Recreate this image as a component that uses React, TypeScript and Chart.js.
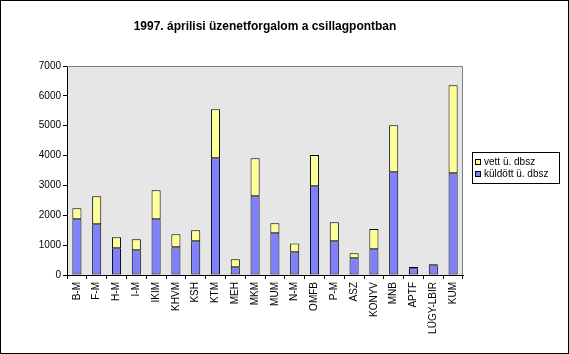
import { useEffect, useRef } from "react";
import { Chart, registerables } from "chart.js";
Chart.register(...registerables);

const titleText = "1997. áprilisi üzenetforgalom a csillagpontban";
const categories = ["B-M", "F-M", "H-M", "I-M", "IKIM", "KHVM", "KSH", "KTM", "MEH", "MKM", "MUM", "N-M", "OMFB", "P-M", "ASZ", "KONYV", "MNB", "APTF", "LÜGY-LBIR", "KUM"];
const sentLabel = "küldött ü. dbsz";
const receivedLabel = "vett ü. dbsz";
const sentValues = [1865, 1697, 893, 826, 1865, 927, 1128, 3908, 257, 2635, 1396, 759, 2970, 1128, 558, 860, 3439, 223, 324, 3405];
const receivedValues = [370, 940, 370, 370, 970, 435, 370, 1640, 270, 1275, 335, 300, 1050, 635, 170, 680, 1575, 45, 35, 2950];
const yMin = 0;
const yMax = 7000;
const yStep = 1000;

const FONT = "'Liberation Sans', Arial, sans-serif";

const decorPlugin = {
  id: "decor",
  beforeDraw(chart: any) {
    const { ctx, chartArea: a, width, height } = chart;
    ctx.save();
    ctx.fillStyle = "#ffffff";
    ctx.fillRect(0, 0, width, height);
    ctx.fillStyle = "#e6e6e6";
    ctx.fillRect(a.left, a.top, a.right - a.left, a.bottom - a.top);
    ctx.restore();
  },
  afterDraw(chart: any) {
    const { ctx, chartArea: a, width, height } = chart;
    ctx.save();
    ctx.strokeStyle = "#808080";
    ctx.lineWidth = 1;
    ctx.beginPath();
    ctx.moveTo(a.left, a.top + 0.5);
    ctx.lineTo(a.right - 0.5, a.top + 0.5);
    ctx.lineTo(a.right - 0.5, a.bottom);
    ctx.stroke();
    ctx.strokeStyle = "#000000";
    ctx.strokeRect(0.5, 0.5, width - 1, height - 1);
    ctx.fillStyle = "#000000";
    ctx.font = `bold 12px ${FONT}`;
    ctx.textAlign = "center";
    ctx.textBaseline = "middle";
    ctx.fillText(titleText, (a.left + a.right) / 2, 27);
    const lx = 472, ly = 152, lw = 87, lh = 31;
    ctx.fillStyle = "#ffffff";
    ctx.fillRect(lx, ly, lw, lh);
    ctx.strokeStyle = "#000000";
    ctx.strokeRect(lx + 0.5, ly + 0.5, lw, lh);
    const ds = chart.data.datasets.slice().reverse();
    ctx.font = `10px ${FONT}`;
    ctx.textAlign = "left";
    ds.forEach((d: any, i: number) => {
      const cy = ly + 10 + i * 12;
      ctx.fillStyle = d.backgroundColor;
      ctx.fillRect(lx + 3, cy - 3, 6, 6);
      ctx.strokeStyle = "#000000";
      ctx.strokeRect(lx + 3.5, cy - 2.5, 5, 5);
      ctx.fillStyle = "#000000";
      ctx.fillText(d.label, lx + 12, cy + 0.5);
    });
    ctx.restore();
  },
};

export default function App() {
  const ref = useRef<HTMLCanvasElement | null>(null);
  useEffect(() => {
    document.body.style.margin = "0";
    if (!ref.current) return;
    const chart = new Chart(ref.current, {
      type: "bar",
      data: {
        labels: categories,
        datasets: [
          {
            label: sentLabel,
            data: sentValues,
            backgroundColor: "#8080ff",
            borderColor: "#000000",
            borderWidth: 1,
            borderSkipped: false,
            barPercentage: 0.46,
            categoryPercentage: 1,
          },
          {
            label: receivedLabel,
            data: receivedValues,
            backgroundColor: "#ffff99",
            borderColor: "#000000",
            borderWidth: 1,
            borderSkipped: false,
            barPercentage: 0.46,
            categoryPercentage: 1,
          },
        ],
      },
      options: {
        responsive: false,
        animation: false,
        layout: { padding: { left: 0, right: 106, top: 66, bottom: 0 } },
        plugins: {
          legend: { display: false },
          title: { display: false },
          tooltip: { enabled: false },
        },
        scales: {
          x: {
            stacked: true,
            offset: true,
            grid: {
              offset: true,
              drawOnChartArea: false,
              drawTicks: true,
              tickLength: 4,
              color: "#000000",
            },
            border: { color: "#000000", width: 1 },
            ticks: {
              autoSkip: false,
              maxRotation: 90,
              minRotation: 90,
              color: "#000000",
              font: { family: FONT, size: 10 },
              padding: 3,
            },
            afterFit(scale: any) {
              scale.height = 79;
            },
          },
          y: {
            stacked: true,
            min: yMin,
            max: yMax,
            grid: {
              drawOnChartArea: false,
              drawTicks: true,
              tickLength: 4,
              color: "#000000",
            },
            border: { color: "#000000", width: 1 },
            ticks: {
              stepSize: yStep,
              color: "#000000",
              font: { family: FONT, size: 10 },
              padding: 2,
              callback: (v: any) => String(v),
            },
            afterFit(scale: any) {
              scale.width = 67;
            },
          },
        },
      },
      plugins: [decorPlugin],
    });
    return () => chart.destroy();
  }, []);
  return <canvas ref={ref} width={569} height={354} style={{ display: "block" }} />;
}
